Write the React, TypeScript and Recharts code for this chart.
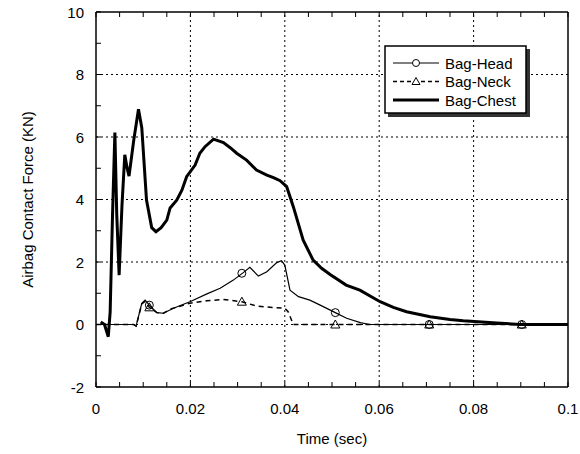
import React from "react"
import {
  ComposedChart,
  Line,
  Scatter,
  XAxis,
  YAxis,
  ReferenceLine,
  Legend,
  Label,
} from "recharts"

// time axis (sec)
const xTicks = [
  0, 0.005, 0.01, 0.015, 0.02, 0.025, 0.03, 0.035, 0.04, 0.045, 0.05,
  0.055, 0.06, 0.065, 0.07, 0.075, 0.08, 0.085, 0.09, 0.095, 0.1,
]
const xLabels = [0, 0.02, 0.04, 0.06, 0.08, 0.1]
const xGrid = [0.02, 0.04, 0.06, 0.08]

// force axis (KN)
const yMin = -2
const yMax = 10
const yTicks = [-2, -1, 0, 1, 2, 3, 4, 5, 6, 7, 8, 9, 10]
const yLabels = [-2, 0, 2, 4, 6, 8, 10]
const yGrid = [0, 2, 4, 6, 8]

const seriesNames = ["Bag-Head", "Bag-Neck", "Bag-Chest"]

const headT = [
  0, 0.008, 0.0085, 0.0097, 0.0104, 0.0113, 0.0129, 0.0143, 0.0164, 0.0199,
  0.0235, 0.0263, 0.0291, 0.0312, 0.0326, 0.0344, 0.0362, 0.0383, 0.0393,
  0.04, 0.0411, 0.0429, 0.0453, 0.0475, 0.0507, 0.0531, 0.056, 0.058, 0.1,
]
const headV = [
  0, 0, -0.05, 0.68, 0.78, 0.62, 0.38, 0.36, 0.52, 0.73, 0.98, 1.16, 1.42,
  1.66, 1.83, 1.55, 1.69, 1.98, 2.04, 1.9, 1.1, 0.89, 0.78, 0.62, 0.38, 0.2,
  0.06, 0, 0,
]

const neckT = [
  0, 0.008, 0.0085, 0.0097, 0.0104, 0.0113, 0.0129, 0.0143, 0.0157, 0.0199,
  0.0235, 0.027, 0.0309, 0.034, 0.0376, 0.04, 0.0407, 0.0418, 0.1,
]
const neckV = [
  0, 0, -0.05, 0.66, 0.74, 0.55, 0.38, 0.36, 0.49, 0.68, 0.76, 0.8, 0.73,
  0.59, 0.54, 0.52, 0.41, 0, 0,
]

const chestT = [
  0.001, 0.0018, 0.0026, 0.003, 0.0035, 0.004, 0.0044, 0.0049, 0.0055,
  0.0061, 0.0066, 0.007, 0.008, 0.009, 0.0097, 0.0107, 0.0118, 0.0127,
  0.0138, 0.015, 0.0157, 0.0171, 0.0182, 0.0192, 0.021, 0.022, 0.0231,
  0.0249, 0.027, 0.0285, 0.0298, 0.0319, 0.034, 0.0362, 0.0376, 0.039,
  0.0404, 0.0418, 0.0439, 0.046, 0.0478, 0.0496, 0.053, 0.0559, 0.0602,
  0.063, 0.0658, 0.0708, 0.075, 0.0778, 0.0849, 0.0898, 0.1,
]
const chestV = [
  0.08, 0, -0.39, 0.4, 3.5, 6.14, 3.5, 1.58, 3.8, 5.43, 5.0, 4.75, 5.9, 6.89,
  6.3, 3.98, 3.1, 2.97, 3.1, 3.34, 3.73, 3.98, 4.3, 4.73, 5.1, 5.48, 5.69,
  5.93, 5.82, 5.65, 5.48, 5.26, 4.94, 4.78, 4.7, 4.6, 4.41, 3.77, 2.7, 2.06,
  1.8, 1.6, 1.26, 1.1, 0.73, 0.55, 0.41, 0.25, 0.16, 0.12, 0.05, 0, 0,
]

// marker positions
const markT = [0.0113, 0.0309, 0.0507, 0.0706, 0.0902]
const headMarkV = [0.62, 1.64, 0.38, 0, 0]
const neckMarkV = [0.55, 0.73, 0, 0, 0]

const toRows = (t: number[], v: number[]) => t.map((x, i) => ({ t: x, v: v[i] }))

const headData = toRows(headT, headV)
const neckData = toRows(neckT, neckV)
const chestData = toRows(chestT, chestV)
const headMarks = toRows(markT, headMarkV)
const neckMarks = toRows(markT, neckMarkV)
// x tick marks sit on the bottom and top frame lines
const bottomMarks = xTicks.map((t) => ({ t, v: yMin }))
const topMarks = xTicks.map((t) => ({ t, v: yMax }))

const FONT = "'Liberation Sans', Arial, sans-serif"
const TICK_LEN = 5
const LEFT_GAP = 12
const BOTTOM_GAP = 16

// ticks point into the plot, so they are drawn together with the labels
const LeftTick = ({ x, y, payload }: any) => (
  <g>
    <rect x={x + LEFT_GAP} y={y - 0.5} width={TICK_LEN} height={1} fill="#000" />
    {yLabels.includes(payload.value) && (
      <text x={x} y={y} textAnchor="end" dominantBaseline="central" fontSize={15} fontFamily={FONT} fill="#000">
        {payload.value}
      </text>
    )}
  </g>
)

const BottomTick = ({ x, y, payload }: any) =>
  xLabels.includes(payload.value) ? (
    <text x={x} y={y} dy="0.71em" textAnchor="middle" fontSize={15} fontFamily={FONT} fill="#000">
      {String(payload.value)}
    </text>
  ) : (
    <g />
  )

const RightTick = ({ x, y }: any) => (
  <rect x={x - TICK_LEN} y={y - 0.5} width={TICK_LEN} height={1} fill="#000" />
)

const UpMark = ({ cx, cy }: any) => (
  <rect x={cx - 0.5} y={cy - TICK_LEN} width={1} height={TICK_LEN} fill="#000" />
)

const DownMark = ({ cx, cy }: any) => (
  <rect x={cx - 0.5} y={cy} width={1} height={TICK_LEN} fill="#000" />
)

const CircleMark = ({ cx, cy }: any) => (
  <circle cx={cx} cy={cy} r={4} fill="none" stroke="#000" strokeWidth={1} />
)

const TriMark = ({ cx, cy }: any) => (
  <path
    d={`M${cx},${cy - 4.5} L${cx + 4.5},${cy + 3.5} L${cx - 4.5},${cy + 3.5} Z`}
    fill="none"
    stroke="#000"
    strokeWidth={1}
  />
)

const LegendBox = () => {
  const rows = [18, 36.5, 55]
  return (
    <svg width={148} height={73} style={{ display: "block" }}>
      <rect x={4} y={4} width={142} height={68} fill="#333" />
      <rect x={1} y={1} width={141} height={67} fill="#fff" stroke="#000" strokeWidth={1.5} />
      {seriesNames.map((name, i) => (
        <g key={name}>
          <line
            x1={9}
            x2={55}
            y1={rows[i]}
            y2={rows[i]}
            stroke="#000"
            strokeWidth={i === 2 ? 3 : i === 1 ? 1.5 : 1.2}
            strokeDasharray={i === 1 ? "4 3" : undefined}
          />
          {i === 0 && <circle cx={32} cy={rows[i]} r={3.5} fill="#fff" stroke="#000" strokeWidth={1} />}
          {i === 1 && (
            <path
              d={`M32,${rows[i] - 4} L36,${rows[i] + 3} L28,${rows[i] + 3} Z`}
              fill="#fff"
              stroke="#000"
              strokeWidth={1}
            />
          )}
          <text
            x={61}
            y={rows[i]}
            dominantBaseline="central"
            fontSize={15}
            fontFamily={FONT}
            fill="#000"
          >
            {name}
          </text>
        </g>
      ))}
    </svg>
  )
}

export default function App() {
  return (
    <div style={{ position: "absolute", left: 0, top: 0, background: "#fff" }}>
      <ComposedChart width={580} height={454} margin={{ top: 0, right: 0, bottom: 0, left: 0 }}>
        <XAxis
          dataKey="t"
          type="number"
          domain={[0, 0.1]}
          ticks={xTicks}
          interval={0}
          height={67}
          tickSize={0}
          tickMargin={BOTTOM_GAP}
          tick={<BottomTick />}
          tickLine={false}
          axisLine={{ stroke: "#000", strokeWidth: 1.5 }}
        >
          <Label
            value="Time (sec)"
            position="insideBottom"
            offset={10}
            style={{ fill: "#000", fontSize: 15, fontFamily: FONT }}
          />
        </XAxis>
        <XAxis
          xAxisId="t"
          orientation="top"
          type="number"
          domain={[0, 0.1]}
          ticks={xTicks}
          interval={0}
          height={12}
          tick={false}
          tickLine={false}
          axisLine={{ stroke: "#000", strokeWidth: 1.5 }}
        />
        <YAxis
          type="number"
          domain={[yMin, yMax]}
          ticks={yTicks}
          interval={0}
          width={96}
          tickSize={0}
          tickMargin={LEFT_GAP}
          tick={<LeftTick />}
          tickLine={false}
          axisLine={{ stroke: "#000", strokeWidth: 1.5 }}
        >
          <Label
            value="Airbag Contact Force (KN)"
            angle={-90}
            position="insideLeft"
            offset={28}
            style={{ fill: "#000", fontSize: 15, fontFamily: FONT, textAnchor: "middle" }}
          />
        </YAxis>
        <YAxis
          yAxisId="r"
          orientation="right"
          type="number"
          domain={[yMin, yMax]}
          ticks={yTicks}
          interval={0}
          width={12}
          tickSize={0}
          tickMargin={0}
          tick={<RightTick />}
          tickLine={false}
          axisLine={{ stroke: "#000", strokeWidth: 1.5 }}
        />

        {xGrid.map((x) => (
          <ReferenceLine key={"x" + x} x={x} stroke="#000" strokeDasharray="2 3" strokeWidth={1} />
        ))}
        {yGrid.map((y) => (
          <ReferenceLine key={"y" + y} y={y} stroke="#000" strokeDasharray="2 3" strokeWidth={1} />
        ))}

        <Scatter data={bottomMarks} dataKey="v" shape={<UpMark />} isAnimationActive={false} />
        <Scatter data={topMarks} dataKey="v" shape={<DownMark />} isAnimationActive={false} />

        <Line
          data={neckData}
          dataKey="v"
          type="linear"
          stroke="#000"
          strokeWidth={1.5}
          strokeDasharray="5 4"
          dot={false}
          isAnimationActive={false}
        />
        <Line
          data={headData}
          dataKey="v"
          type="linear"
          stroke="#000"
          strokeWidth={1.2}
          dot={false}
          isAnimationActive={false}
        />
        <Line
          data={chestData}
          dataKey="v"
          type="linear"
          stroke="#000"
          strokeWidth={3}
          dot={false}
          isAnimationActive={false}
        />
        <Scatter data={headMarks} dataKey="v" shape={<CircleMark />} isAnimationActive={false} />
        <Scatter data={neckMarks} dataKey="v" shape={<TriMark />} isAnimationActive={false} />

        <Legend
          layout="vertical"
          align="center"
          verticalAlign="middle"
          wrapperStyle={{ left: 384, top: 45, width: 148, height: 73 }}
          content={<LegendBox />}
        />
      </ComposedChart>
    </div>
  )
}
